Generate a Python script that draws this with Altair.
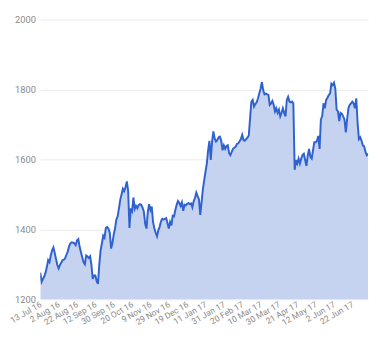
import altair as alt
import pandas as pd

tick_labels = ["13 Jul 16", "2 Aug 16", "22 Aug 16", "12 Sep 16", "30 Sep 16", "20 Oct 16",
               "9 Nov 16", "29 Nov 16", "19 Dec 16", "11 Jan 17", "31 Jan 17", "20 Feb 17",
               "10 Mar 17", "30 Mar 17", "21 Apr 17", "12 May 17", "2 Jun 17", "22 Jun 17"]
label_step = 14  # trading days between labelled dates

values_a = [1276, 1250, 1258, 1265, 1276, 1292, 1312, 1306, 1325, 1340,
            1348, 1332, 1315, 1298, 1288, 1298, 1304, 1312, 1313, 1318,
            1328, 1337, 1352, 1360, 1363, 1362, 1360, 1355, 1368, 1372,
            1350, 1335, 1320, 1306, 1300, 1325, 1322, 1318, 1323, 1298,
            1258, 1268, 1268, 1252, 1244, 1300, 1340, 1360, 1382, 1376,
            1404, 1407, 1402, 1390]
values_b = [1345, 1360, 1385, 1402, 1428, 1437, 1460, 1485, 1500, 1516,
            1509, 1520, 1537, 1510, 1404, 1460, 1452, 1491, 1458, 1467,
            1460, 1469, 1472, 1470, 1462, 1450, 1416, 1402, 1450, 1472,
            1455, 1465, 1421, 1402, 1390, 1380, 1397, 1407, 1422, 1430,
            1428, 1430, 1432, 1418, 1402, 1421, 1411, 1439, 1437, 1455,
            1470, 1481]
values_c = [1475, 1467, 1477, 1453, 1470, 1468, 1473, 1475, 1472, 1474,
            1463, 1481, 1490, 1505, 1495, 1486, 1441, 1477, 1514, 1540,
            1565, 1588, 1626, 1653, 1598, 1650, 1680, 1660, 1651, 1655,
            1663, 1665, 1653, 1626, 1640, 1630, 1638, 1640, 1618, 1612,
            1621, 1630, 1633, 1636, 1644, 1646, 1652, 1658, 1670, 1655,
            1653]
values_d = [1658, 1662, 1668, 1718, 1765, 1770, 1751, 1758, 1763, 1774,
            1788, 1802, 1821, 1798, 1786, 1788, 1786, 1784, 1756, 1760,
            1767, 1756, 1737, 1746, 1733, 1742, 1723, 1733, 1746, 1733,
            1723, 1770, 1779, 1765, 1763, 1765, 1760, 1570, 1598, 1588,
            1602, 1588, 1602, 1612, 1616, 1598, 1581, 1612, 1630, 1607,
            1602, 1626, 1649, 1649, 1653, 1667, 1630, 1714, 1723, 1760,
            1746, 1770, 1776, 1784, 1788, 1816, 1812, 1819, 1802, 1742,
            1737, 1709, 1733, 1730, 1723, 1714, 1677, 1714, 1746, 1756,
            1760, 1765, 1760, 1746, 1774, 1705, 1658, 1663, 1653, 1640,
            1637, 1621, 1612, 1616]

series = values_a + values_b + values_c + values_d
df = pd.DataFrame({"i": list(range(len(series))), "v": series})

label_arr = "[" + ",".join("'" + s + "'" for s in tick_labels) + "]"
tick_vals = [k * label_step for k in range(len(tick_labels))]

font = "Roboto"
lab_col = "#8a8a8a"

x_enc = alt.X("i:Q", scale=alt.Scale(domain=[0, len(series) - 1], nice=False, zero=False),
              axis=alt.Axis(values=tick_vals, tickCount=len(tick_vals) + 2,
                            labelExpr=label_arr + "[round(datum.value/" + str(label_step) + ")]",
                            labelAngle=-30, labelAlign="right", labelBaseline="middle",
                            grid=False, ticks=False, domain=False, title=None,
                            labelFont=font, labelFontSize=8.6, labelColor=lab_col,
                            labelPadding=4, labelOverlap=False, labelFlush=False, labelBound=False))
y_enc = alt.Y("v:Q", scale=alt.Scale(domain=[1200, 2000], nice=False, zero=False),
              axis=alt.Axis(values=[1200, 1400, 1600, 1800, 2000], grid=True, gridColor="#ebebeb",
                            ticks=False, domain=False, title=None, format="d",
                            labelFont=font, labelFontSize=9.5, labelColor=lab_col, labelPadding=5))

area = alt.Chart(df).mark_area(color="#c5d3f0", opacity=1, clip=True).encode(x=x_enc, y=y_enc)
line = alt.Chart(df).mark_line(color="#2f62cf", strokeWidth=2, clip=True).encode(x="i:Q", y="v:Q")

chart = (area + line).properties(
    width=335, height=286,
    autosize=alt.AutoSizeParams(type="none"),
    padding={"left": 33, "top": 8, "right": 4, "bottom": 40},
).configure_view(stroke=None).configure_axisX(labelOverlap=False)

chart.save("out.html", embed_options={"renderer": "svg", "actions": False})
